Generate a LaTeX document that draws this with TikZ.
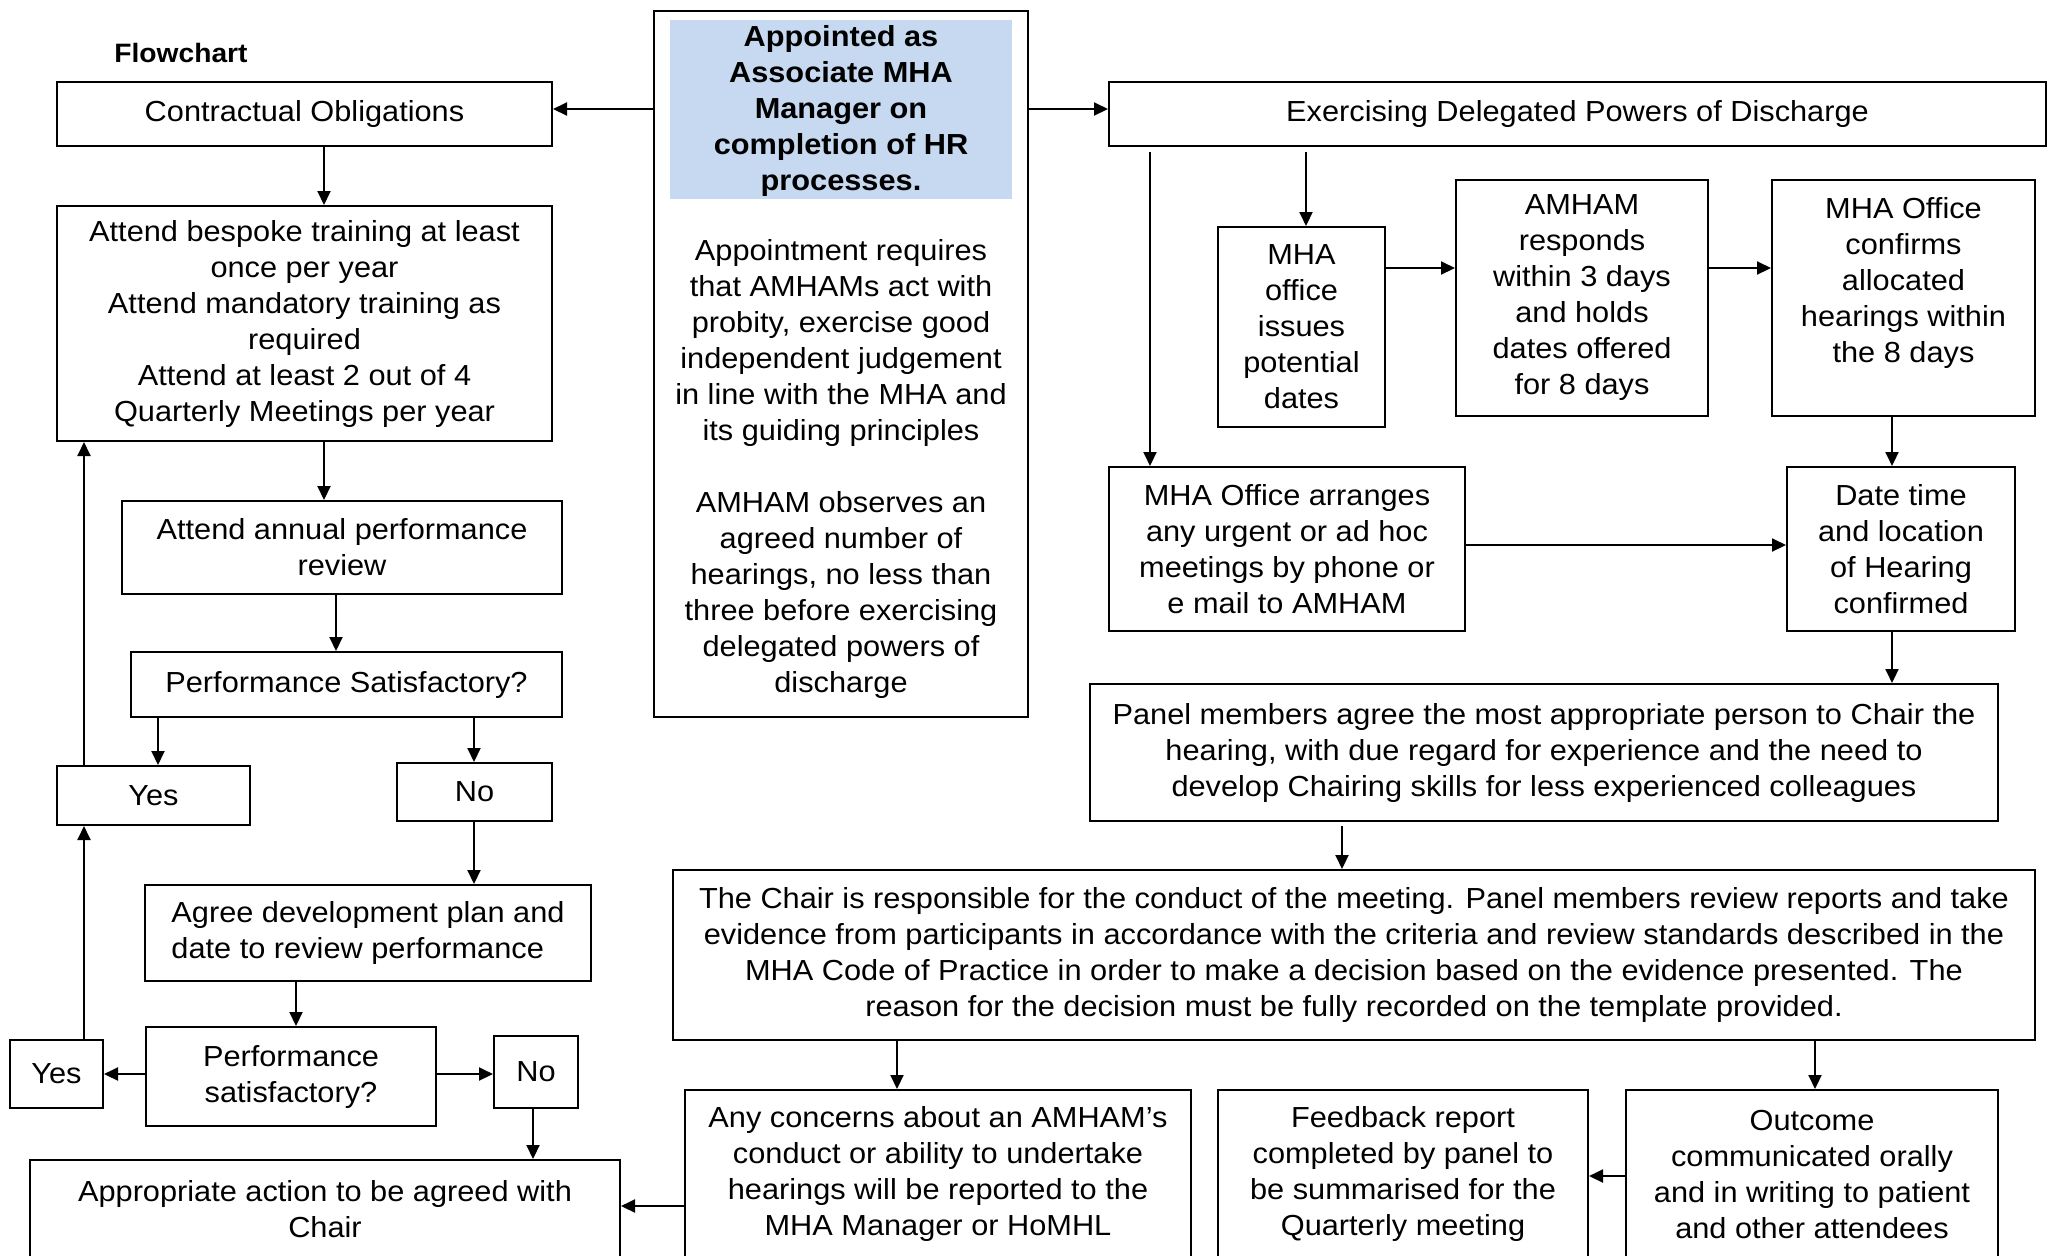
\documentclass[tikz,border=0pt]{standalone}
\usepackage{fontspec}
\setmainfont{Liberation Sans}[FakeStretch=1.06]
\usetikzlibrary{arrows.meta}
\definecolor{apptblue}{HTML}{C6D9F1}
\newcommand{\fs}{\fontsize{14.5}{18}\selectfont}
\tikzset{
  bx/.style={draw=black, line width=1pt, inner sep=0pt, align=center, font=\fs, text=black},
  lbl/.style={inner sep=0pt, align=center, font=\fs, text=black},
  arr/.style={-{Triangle[length=7pt,width=6.5pt]}, line width=1pt, draw=black},
}
\begin{document}
\begin{tikzpicture}[x=0.5pt,y=-0.5pt]
\useasboundingbox (0,0) rectangle (2050,1255);
\fill[white] (0,0) rectangle (2050,1255);

% helper coordinates for connector positions
\coordinate (xa) at (324,0);
\coordinate (xb) at (336,0);
\coordinate (xc) at (158,0);
\coordinate (xd) at (474,0);
\coordinate (xe) at (296,0);
\coordinate (xf) at (84,0);
\coordinate (xg) at (533,0);
\coordinate (xh) at (1150,0);
\coordinate (xi) at (1306,0);
\coordinate (xj) at (1892,0);
\coordinate (xk) at (1342,0);
\coordinate (xl) at (897,0);
\coordinate (xm) at (1815,0);
\coordinate (ya) at (0,109);
\coordinate (yb) at (0,268);
\coordinate (yc) at (0,545);
\coordinate (yd) at (0,1074);
\coordinate (ye) at (0,1206);
\coordinate (yf) at (0,1176);

% title
\node[lbl, anchor=west, font=\fontsize{13.3}{16}\selectfont\bfseries] (flow) at (114,53) {Flowchart};

% centre box
\node[bx, minimum width=187pt, minimum height=353pt] (appt) at (841,364) {};
\node[fill=apptblue, inner sep=0pt, minimum width=171pt, minimum height=89.5pt] (blue) at (841,109.5) {};
\node[lbl, font=\fs\bfseries] (appttitle) at (841,111) {Appointed as\\Associate MHA\\Manager on\\completion of HR\\processes.};
\node[lbl] (apptbody) at (841,469) {Appointment requires\\that AMHAMs act with\\probity, exercise good\\independent judgement\\in line with the MHA and\\its guiding principles\\[18pt]AMHAM observes an\\agreed number of\\hearings, no less than\\three before exercising\\delegated powers of\\discharge};

% left column
\node[bx, minimum width=247.5pt, minimum height=32pt] (contract) at (304.5,114) {Contractual Obligations};
\node[bx, minimum width=247.5pt, minimum height=117.5pt] (bespoke) at (304.5,323.5) {Attend bespoke training at least\\once per year\\Attend mandatory training as\\required\\Attend at least 2 out of 4\\Quarterly Meetings per year};
\node[bx, minimum width=220pt, minimum height=46.5pt] (annual) at (342,547.5) {Attend annual performance\\review};
\node[bx, minimum width=215.5pt, minimum height=32.5pt] (perfsat) at (346.5,684.5) {Performance Satisfactory?};
\node[bx, minimum width=96.5pt, minimum height=29.5pt] (yes1) at (153.5,795.5) {Yes};
\node[bx, minimum width=77.5pt, minimum height=29pt] (no1) at (474.5,792) {No};
\node[bx, align=left, minimum width=223pt, minimum height=48pt] (agree) at (368,933) {Agree development plan and\\date to review performance};
\node[bx, minimum width=145pt, minimum height=49.5pt] (perfsat2) at (291,1076.5) {Performance\\satisfactory?};
\node[bx, minimum width=46.5pt, minimum height=34pt] (yes2) at (56.5,1074) {Yes};
\node[bx, minimum width=42pt, minimum height=36pt] (no2) at (536,1072) {No};
\node[bx, minimum width=295pt, minimum height=49pt] (approp) at (325,1209) {Appropriate action to be agreed with\\Chair};

% right part
\node[bx, minimum width=468.5pt, minimum height=32pt] (exercise) at (1577.5,114) {Exercising Delegated Powers of Discharge};
\node[bx, minimum width=83.5pt, minimum height=100pt] (issues) at (1301.5,327) {MHA\\office\\issues\\potential\\dates};
\node[bx, minimum width=126pt, minimum height=118pt] (responds) at (1582,298) {AMHAM\\responds\\within 3 days\\and holds\\dates offered\\for 8 days};
\node[bx, minimum width=131.5pt, minimum height=118pt] (confirms) at (1903.5,298) {MHA Office\\confirms\\allocated\\hearings within\\the 8 days\\\mbox{}};
\node[bx, minimum width=178pt, minimum height=82pt] (arranges) at (1287,549) {MHA Office arranges\\any urgent or ad hoc\\meetings by phone or\\e mail to AMHAM};
\node[bx, minimum width=114pt, minimum height=82pt] (datetime) at (1901,549) {Date time\\and location\\of Hearing\\confirmed};
\node[bx, minimum width=454pt, minimum height=68.5pt] (panel) at (1544,752.5) {Panel members agree the most appropriate person to Chair the\\hearing, with due regard for experience and the need to\\develop Chairing skills for less experienced colleagues};
\node[bx, minimum width=681pt, minimum height=85pt] (chair) at (1354,955) {The Chair is responsible for the conduct of the meeting. Panel members review reports and take\\evidence from participants in accordance with the criteria and review standards described in the\\MHA Code of Practice in order to make a decision based on the evidence presented. The\\reason for the decision must be fully recorded on the template provided.};
\node[bx, minimum width=253pt, minimum height=84pt] (concerns) at (938,1174) {Any concerns about an AMHAM’s\\conduct or ability to undertake\\hearings will be reported to the\\MHA Manager or HoMHL};
\node[bx, minimum width=185pt, minimum height=84pt] (feedback) at (1403,1174) {Feedback report\\completed by panel to\\be summarised for the\\Quarterly meeting};
\node[bx, minimum width=186pt, minimum height=84pt] (outcome) at (1812,1174) {Outcome\\communicated orally\\and in writing to patient\\and other attendees};

% connectors
\draw[arr] (appt.west |- ya) -- (contract.east |- ya);
\draw[arr] (appt.east |- ya) -- (exercise.west |- ya);
\draw[arr] (contract.south -| xa) -- (bespoke.north -| xa);
\draw[arr] (bespoke.south -| xa) -- (annual.north -| xa);
\draw[arr] (annual.south -| xb) -- (perfsat.north -| xb);
\draw[arr] (perfsat.south -| xc) -- (yes1.north -| xc);
\draw[arr] (perfsat.south -| xd) -- (no1.north -| xd);
\draw[arr] (no1.south -| xd) -- (agree.north -| xd);
\draw[arr] (agree.south -| xe) -- (perfsat2.north -| xe);
\draw[arr] (perfsat2.west |- yd) -- (yes2.east |- yd);
\draw[arr] (perfsat2.east |- yd) -- (no2.west |- yd);
\draw[arr] (yes2.north -| xf) -- (yes1.south -| xf);
\draw[arr] (yes1.north -| xf) -- (bespoke.south -| xf);
\draw[arr] (no2.south -| xg) -- (approp.north -| xg);
\draw[arr] (concerns.west |- ye) -- (approp.east |- ye);
\draw[arr, shorten <=2.5pt] (exercise.south -| xh) -- (arranges.north -| xh);
\draw[arr, shorten <=2.5pt] (exercise.south -| xi) -- (issues.north -| xi);
\draw[arr] (issues.east |- yb) -- (responds.west |- yb);
\draw[arr] (responds.east |- yb) -- (confirms.west |- yb);
\draw[arr] (confirms.south -| xj) -- (datetime.north -| xj);
\draw[arr] (arranges.east |- yc) -- (datetime.west |- yc);
\draw[arr] (datetime.south -| xj) -- (panel.north -| xj);
\draw[arr, shorten <=2pt] (panel.south -| xk) -- (chair.north -| xk);
\draw[arr] (chair.south -| xl) -- (concerns.north -| xl);
\draw[arr] (chair.south -| xm) -- (outcome.north -| xm);
\draw[arr] (outcome.west |- yf) -- (feedback.east |- yf);
\end{tikzpicture}
\end{document}
